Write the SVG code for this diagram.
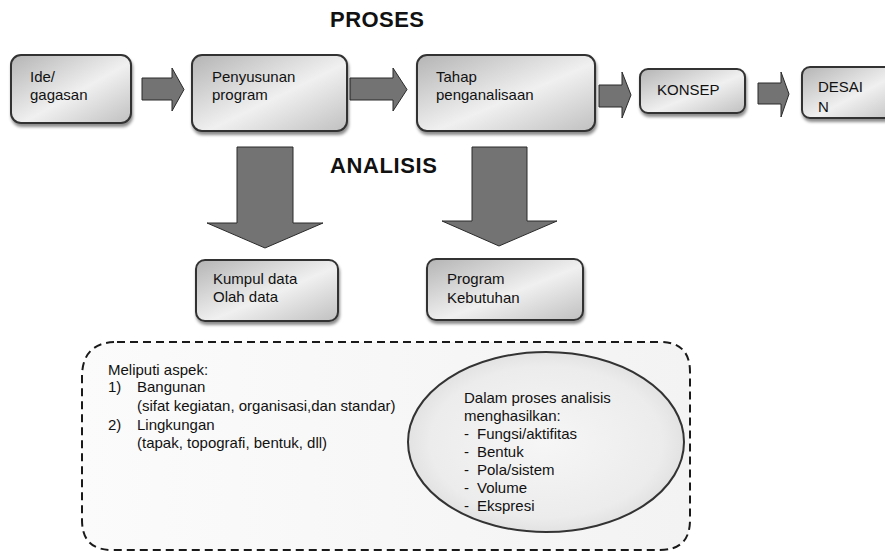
<svg xmlns="http://www.w3.org/2000/svg" width="885" height="554" viewBox="0 0 885 554">
<defs>
<linearGradient id="boxg" x1="0" y1="0" x2="1" y2="1">
<stop offset="0" stop-color="#b4b4b4"/>
<stop offset="0.55" stop-color="#f0f0f0"/>
<stop offset="1" stop-color="#c0c0c0"/>
</linearGradient>
<radialGradient id="ellg" cx="0.5" cy="0.5" r="0.6">
<stop offset="0" stop-color="#f6f6f6"/>
<stop offset="0.7" stop-color="#ececec"/>
<stop offset="1" stop-color="#d6d6d6"/>
</radialGradient>
<linearGradient id="dashg" x1="0" y1="0" x2="1" y2="0">
<stop offset="0" stop-color="#fbfbfb"/>
<stop offset="1" stop-color="#f3f3f3"/>
</linearGradient>
<filter id="sh" x="-10%" y="-10%" width="125%" height="135%">
<feDropShadow dx="1" dy="3" stdDeviation="1.5" flood-color="#000" flood-opacity="0.45"/>
</filter>
</defs>
<style>
.box{fill:url(#boxg);stroke:#333;stroke-width:2;filter:url(#sh)}
.arr{fill:#737373;stroke:#2a2a2a;stroke-width:1}
.t{font-family:"Liberation Sans",Arial,sans-serif;font-size:15px;fill:#111}
.h{font-family:"Liberation Sans",Arial,sans-serif;font-size:22px;font-weight:bold;fill:#111}
</style>
<rect width="885" height="554" fill="#fff"/>
<text class="h" x="330" y="27" textLength="94">PROSES</text>
<text class="h" x="330" y="173" textLength="107">ANALISIS</text>

<g id="connectors">
<polygon class="arr" points="142,78 172,78 172,68 184,89.5 172,111 172,100 142,100"/>
<polygon class="arr" points="350,78 393,78 393,68 407,89.5 393,111 393,100 350,100"/>
<polygon class="arr" points="599,85 622,85 622,72 631,95 622,118 622,107 599,107"/>
<polygon class="arr" points="758,83 781,83 781,72 789,94 781,117 781,104 758,104"/>
<polygon class="arr" points="237,147 293,147 293,223 323,223 265,248 207,223 237,223"/>
<polygon class="arr" points="472,147 527,147 527,221 557,221 499,246 442,221 472,221"/>
</g>

<g id="ide">
<rect class="box" x="11" y="55" width="120" height="68" rx="10"/>
<text class="t" x="30" y="82">Ide/</text>
<text class="t" x="30" y="100">gagasan</text>
</g>
<g id="penyusunan">
<rect class="box" x="192" y="55" width="155" height="76" rx="10"/>
<text class="t" x="212" y="82">Penyusunan</text>
<text class="t" x="212" y="100">program</text>
</g>
<g id="tahap">
<rect class="box" x="417" y="55" width="178" height="76" rx="10"/>
<text class="t" x="436" y="82">Tahap</text>
<text class="t" x="436" y="100">penganalisaan</text>
</g>
<g id="konsep">
<rect class="box" x="640" y="69" width="105" height="44" rx="8"/>
<text class="t" x="657" y="95">KONSEP</text>
</g>
<g id="desain">
<rect class="box" x="802" y="67" width="100" height="51" rx="8"/>
<text class="t" x="818" y="92">DESAI</text>
<text class="t" x="818" y="112">N</text>
</g>
<g id="kumpul">
<rect class="box" x="196" y="260" width="142" height="61" rx="9"/>
<text class="t" x="213" y="284">Kumpul data</text>
<text class="t" x="213" y="302">Olah data</text>
</g>
<g id="program">
<rect class="box" x="427" y="259" width="156" height="61" rx="9"/>
<text class="t" x="447" y="284">Program</text>
<text class="t" x="447" y="303">Kebutuhan</text>
</g>

<g id="aspek">
<path d="M117,342 H660 Q690,342 690,372 V520 Q690,550 660,550 H112 Q82,550 82,520 V377 Q82,342 117,342 Z" fill="url(#dashg)" stroke="#1a1a1a" stroke-width="2" stroke-dasharray="8,5"/>
<text class="t" x="108" y="375">Meliputi aspek:</text>
<text class="t" x="108" y="392">1)</text>
<text class="t" x="137" y="392">Bangunan</text>
<text class="t" x="137" y="411">(sifat kegiatan, organisasi,dan standar)</text>
<text class="t" x="108" y="430">2)</text>
<text class="t" x="137" y="430">Lingkungan</text>
<text class="t" x="137" y="448">(tapak, topografi, bentuk, dll)</text>
</g>

<g id="hasil">
<ellipse cx="546" cy="442" rx="138" ry="90" fill="url(#ellg)" stroke="#333" stroke-width="2"/>
<text class="t" x="464" y="403">Dalam proses analisis</text>
<text class="t" x="464" y="421">menghasilkan:</text>
<text class="t" x="464" y="439">-</text><text class="t" x="477" y="439">Fungsi/aktifitas</text>
<text class="t" x="464" y="457">-</text><text class="t" x="477" y="457">Bentuk</text>
<text class="t" x="464" y="475">-</text><text class="t" x="477" y="475">Pola/sistem</text>
<text class="t" x="464" y="493">-</text><text class="t" x="477" y="493">Volume</text>
<text class="t" x="464" y="511">-</text><text class="t" x="477" y="511">Ekspresi</text>
</g>
</svg>
